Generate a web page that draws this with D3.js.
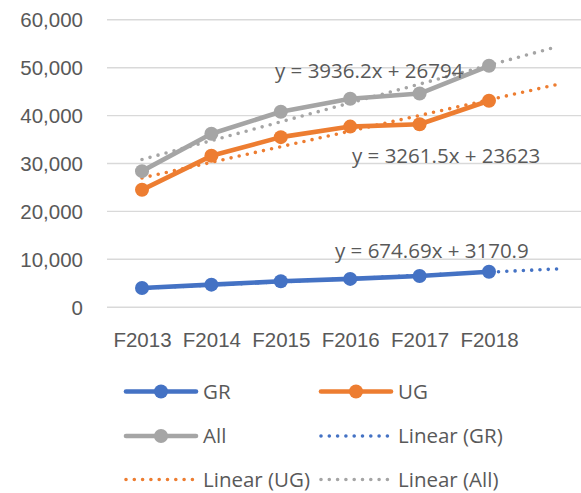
<!DOCTYPE html>
<html>
<head>
<meta charset="utf-8">
<script src="https://cdn.jsdelivr.net/npm/d3@7"></script>
<style>
  html, body { margin: 0; padding: 0; background: #fff; }
  svg { display: block; font-family: "Open Sans", Lato, sans-serif; }
  .tick text, .lbl { fill: #595959; }
</style>
</head>
<body>
<svg id="chart" width="581" height="493"></svg>
<script>
  "use strict";

  const years = ["F2013", "F2014", "F2015", "F2016", "F2017", "F2018"];
  const grValues = [3900, 4600, 5300, 5800, 6400, 7300];
  const ugValues = [24400, 31500, 35400, 37600, 38100, 43000];
  const allValues = [28300, 36100, 40700, 43400, 44500, 50300];
  const yTicks = [0, 10000, 20000, 30000, 40000, 50000, 60000];

  // Excel trendline coefficients (slope, intercept), forecast one period forward
  const trendNames = ["GR", "UG", "All"];
  const trendSlopes = [674.69, 3261.5, 3936.2];
  const trendIntercepts = [3170.9, 23623, 26794];
  const trendLabels = ["y = 674.69x + 3170.9", "y = 3261.5x + 23623", "y = 3936.2x + 26794"];

  const colors = { GR: "#4472C4", UG: "#ED7D31", All: "#A5A5A5" };
  const series = [
    { name: "GR", values: grValues },
    { name: "UG", values: ugValues },
    { name: "All", values: allValues },
  ];

  const svg = d3.select("#chart");
  const fontSize = 20.5;

  const bandCount = years.length + 1;
  const x = d3.scalePoint()
    .domain(d3.range(1, bandCount + 1))
    .range([142, 142 + 69.4 * (bandCount - 1)]);
  const y = d3.scaleLinear().domain([0, 60000]).range([306.7, 19.3]);

  // gridlines + y labels
  const yAxis = d3.axisLeft(y)
    .tickValues(yTicks)
    .tickFormat(d3.format(","))
    .tickSize(-(600 - 107))
    .tickPadding(24);
  const gy = svg.append("g").attr("transform", "translate(107,0)").call(yAxis);
  gy.select(".domain").remove();
  gy.selectAll(".tick line").attr("stroke", "#d9d9d9").attr("stroke-width", 1.4);
  gy.selectAll(".tick text").attr("font-size", fontSize).attr("dy", "0.36em");

  // x labels
  const xAxis = d3.axisBottom(x)
    .tickValues(d3.range(1, years.length + 1))
    .tickFormat((d) => years[d - 1])
    .tickSize(0)
    .tickPadding(0);
  const gx = svg.append("g").attr("transform", "translate(0,332)").call(xAxis);
  gx.select(".domain").remove();
  gx.selectAll(".tick text").attr("font-size", fontSize).attr("dy", "0.72em");

  // trendlines
  const dotted = (sel) => sel
    .attr("fill", "none")
    .attr("stroke-width", 3.6)
    .attr("stroke-linecap", "round")
    .attr("stroke-dasharray", "0 8.3");

  trendNames.forEach((name, i) => {
    const f = (t) => trendSlopes[i] * t + trendIntercepts[i];
    svg.append("line")
      .attr("x1", x(1)).attr("y1", y(f(1)))
      .attr("x2", x(bandCount)).attr("y2", y(f(bandCount)))
      .attr("stroke", colors[name])
      .call(dotted);
  });

  // series lines + markers
  const line = d3.line().x((d, i) => x(i + 1)).y((d) => y(d));
  series.forEach((s) => {
    svg.append("path")
      .datum(s.values)
      .attr("d", line)
      .attr("fill", "none")
      .attr("stroke", colors[s.name])
      .attr("stroke-width", 4.6)
      .attr("stroke-linejoin", "round");
    svg.append("g")
      .selectAll("circle")
      .data(s.values)
      .join("circle")
      .attr("cx", (d, i) => x(i + 1))
      .attr("cy", (d) => y(d))
      .attr("r", 7)
      .attr("fill", colors[s.name]);
  });

  // trendline equations
  const labelPos = [
    { x: 335, y: 258 },
    { x: 352, y: 163 },
    { x: 275, y: 78 },
  ];
  trendLabels.forEach((txt, i) => {
    svg.append("text")
      .attr("class", "lbl")
      .attr("x", labelPos[i].x)
      .attr("y", labelPos[i].y)
      .attr("font-size", fontSize)
      .text(txt);
  });

  // legend
  const legendItems = [
    { label: "GR", color: colors.GR, trend: false },
    { label: "UG", color: colors.UG, trend: false },
    { label: "All", color: colors.All, trend: false },
    { label: "Linear (GR)", color: colors.GR, trend: true },
    { label: "Linear (UG)", color: colors.UG, trend: true },
    { label: "Linear (All)", color: colors.All, trend: true },
  ];
  const colX = [125, 320];
  const rowY = [391.5, 436, 479.5];
  legendItems.forEach((item, i) => {
    const lx = colX[i % 2];
    const ly = rowY[Math.floor(i / 2)];
    const g = svg.append("g").attr("transform", `translate(${lx},${ly})`);
    if (item.trend) {
      g.append("line").attr("x1", 1).attr("x2", 71).attr("y1", 0).attr("y2", 0)
        .attr("stroke", item.color).call(dotted);
    } else {
      g.append("line").attr("x1", 1).attr("x2", 71).attr("y1", 0).attr("y2", 0)
        .attr("stroke", item.color).attr("stroke-width", 4.6).attr("stroke-linecap", "round");
      g.append("circle").attr("cx", 36).attr("cy", 0).attr("r", 7).attr("fill", item.color);
    }
    g.append("text")
      .attr("class", "lbl")
      .attr("x", 78)
      .attr("y", 0)
      .attr("dy", "0.36em")
      .attr("font-size", fontSize)
      .text(item.label);
  });
</script>
</body>
</html>
